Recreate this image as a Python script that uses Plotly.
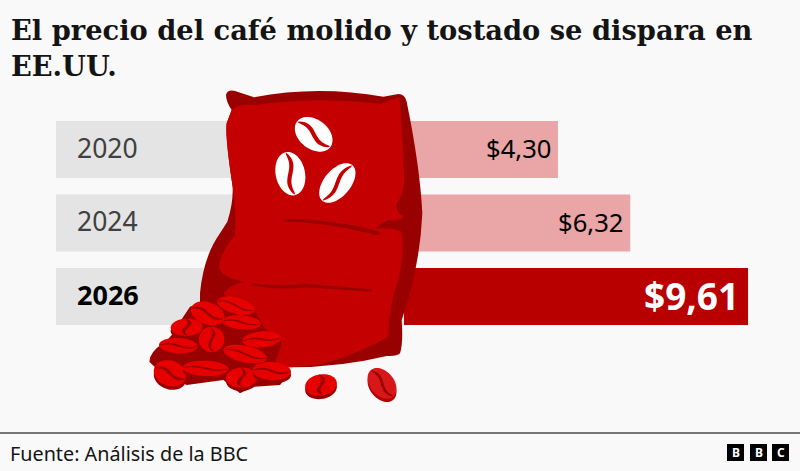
import re
import numpy as np
import plotly.graph_objects as go

years = ["2020", "2024", "2026"]
prices = [4.30, 6.32, 9.61]
bar_colors = ["#eaa6a6", "#eaa6a6", "#b80000"]
track_value = [-9.72, -9.72, -9.72]

W, H = 800, 471
BG = "#f9f9f9"
SACK = "#c40000"
DARK = "#990000"
BEAN = "#e60000"


def zx(x):
    return (140 + x / 3) / W


def zy(y):
    return 1 - (80 + y / 3) / H


def zpath(d):
    out = []
    is_x = True
    for tok in re.findall(r"[A-Za-z]|-?\d+\.?\d*", d):
        if tok.isalpha():
            out.append(tok)
            is_x = True
        else:
            out.append(f"{zx(float(tok)):.5f}" if is_x else f"{zy(float(tok)):.5f}")
            is_x = not is_x
    return " ".join(out)


def shape(d, color):
    return dict(type="path", xref="paper", yref="paper", path=zpath(d),
                fillcolor=color, line=dict(width=0))


def poly(pts, color):
    d = "M " + " L ".join(f"{x:.1f},{y:.1f}" for x, y in pts) + " Z"
    return shape(d, color)


def bean(cx, cy, a, b, ang, fill=BEAN, crease=DARK, under=DARK, sgn=1, cw=0.11):
    r = np.radians(ang)
    c, s = np.cos(r), np.sin(r)

    def tf(u, v):
        return [(cx + ux * c - vy * s, cy + ux * s + vy * c) for ux, vy in zip(u, v)]

    th = np.linspace(0, 2 * np.pi, 48, endpoint=False)
    res = []
    if under:
        pts = [(x, y + 10) for x, y in tf(a * np.cos(th), b * np.sin(th))]
        res.append(poly(pts, under))
    res.append(poly(tf(a * np.cos(th), b * np.sin(th)), fill))
    t = np.linspace(-1, 1, 25)
    mid = sgn * 0.2 * b * np.sin(np.pi * t)
    w = cw * b * (1 - t ** 2) ** 0.5 + 0.015 * b
    u = np.concatenate([a * 0.97 * t, a * 0.97 * t[::-1]])
    v = np.concatenate([mid - w, (mid + w)[::-1]])
    res.append(poly(tf(u, v), crease))
    return res


shapes = []
# sack body
shapes.append(shape(
    "M 258,45 Q 262,28 285,33 L 342,52 Q 530,15 730,50 L 775,42 Q 795,42 800,65 "
    "Q 840,260 847,400 Q 840,560 785,720 Q 790,790 780,820 Q 770,830 740,828 "
    "Q 600,862 450,862 L 300,860 L 180,700 L 180,640 Q 190,530 240,460 L 262,425 "
    "Q 280,370 278,320 Q 255,170 260,130 L 275,90 Q 258,65 258,45 Z", DARK))
shapes.append(shape(
    "M 275,90 Q 290,72 345,75 Q 530,48 720,72 L 778,52 Q 790,200 793,310 "
    "Q 790,345 770,370 Q 766,395 790,410 Q 780,425 745,420 Q 725,428 705,447 "
    "Q 755,440 785,455 Q 795,510 775,600 Q 745,680 745,770 Q 690,800 640,820 "
    "Q 550,862 450,862 L 405,850 L 300,700 L 250,640 Q 270,615 310,605 "
    "Q 240,590 237,560 Q 240,520 285,465 Q 290,400 278,320 Q 255,170 260,130 Z", SACK))
# folds
shapes.append(shape("M 432,417 Q 580,418 710,452 L 722,462 Q 700,468 690,460 "
                    "Q 560,428 432,424 Z", DARK))
shapes.append(shape("M 335,610 Q 420,620 500,612 L 695,628 L 695,635 L 500,622 "
                    "Q 410,632 335,615 Z", DARK))
# white beans on the sack
shapes += bean(521, 163, 63, 44, 38, "#ffffff", SACK, None, cw=0.14)
shapes += bean(451, 281, 66, 44, 78, "#ffffff", SACK, None, cw=0.14)
shapes += bean(592, 309, 70, 40, -50, "#ffffff", SACK, None, -1, cw=0.14)
# pile shadow
shapes.append(shape(
    "M 28,845 Q 30,815 70,790 Q 100,765 110,740 L 150,680 L 230,650 L 340,680 L 370,740 "
    "L 425,790 L 405,850 L 450,880 L 420,915 L 340,920 L 300,940 L 250,900 L 140,915 "
    "Q 60,880 28,845 Z", DARK))
# pile beans
pile = [
    (288, 677, 58, 24, 15), (203, 700, 52, 33, 20), (305, 727, 58, 21, 5),
    (140, 742, 26, 48, 88), (215, 778, 38, 38, 85), (365, 778, 58, 24, -5),
    (115, 797, 58, 23, 3), (315, 822, 66, 25, 12), (90, 880, 50, 38, 20),
    (197, 865, 68, 23, 2), (305, 893, 30, 47, 88), (395, 873, 58, 27, 3),
]
for cx, cy, a, b, ang in pile:
    shapes += bean(cx, cy, a, b, ang)
shapes += bean(543, 915, 32, 48, 80)
shapes += bean(726, 910, 52, 36, 50, "#d81818", DARK, "#b80000")

# BBC blocks
for x0 in (727, 750, 772):
    shapes.append(dict(type="rect", xref="paper", yref="paper", x0=x0 / W, x1=(x0 + 17) / W,
                       y0=1 - 461 / H, y1=1 - 444 / H, fillcolor="#000000", line=dict(width=0)))
# footer rule
shapes.append(dict(type="line", xref="paper", yref="paper", x0=0, x1=1,
                   y0=1 - 433 / H, y1=1 - 433 / H, line=dict(color="#777777", width=2)))

fig = go.Figure()
fig.add_trace(go.Bar(y=years, x=track_value, orientation="h", width=57 / 73.5,
                     marker=dict(color="#e4e4e4", line=dict(width=0)), hoverinfo="skip"))
fig.add_trace(go.Bar(y=years, x=prices, orientation="h", width=57 / 73.5,
                     marker=dict(color=bar_colors, line=dict(width=0)), hoverinfo="skip"))

ann = []
SANS = "Noto Sans"
for i, (yr, p) in enumerate(zip(years, prices)):
    last = i == len(years) - 1
    ann.append(dict(x=75 / W, xref="paper", y=i, yref="y", xanchor="left", yanchor="middle",
                    yshift=2, showarrow=False, text=f"<b>{yr}</b>" if last else yr,
                    font=dict(family=SANS, size=27 if last else 26.5, color="#000000" if last else "#404040")))
    label = f"${p:.2f}".replace(".", ",")
    ann.append(dict(x=p, xref="x", y=i, yref="y", xanchor="right", yanchor="middle",
                    xshift=-7 if last else -5, yshift=1, showarrow=False,
                    text=f"<b>{label}</b>" if last else label,
                    font=dict(family=SANS, size=37 if last else 25.6, color="#ffffff" if last else "#000000")))

TITLE_FONT = dict(family="DejaVu Serif", size=27.3, color="#141414")
for txt, py in (("<b>El precio del café molido y tostado se dispara en</b>", 30),
                ("<b>EE.UU.</b>", 66)):
    ann.append(dict(x=9 / W, y=1 - py / H, xref="paper", yref="paper", xanchor="left", yanchor="middle",
                    showarrow=False, text=txt, font=TITLE_FONT))
ann.append(dict(x=8 / W, y=1 - 453 / H, xref="paper", yref="paper", xanchor="left", yanchor="middle",
                showarrow=False, text="Fuente: Análisis de la BBC",
                font=dict(family=SANS, size=19.8, color="#141414")))
for ch, x0 in zip("BBC", (727, 750, 772)):
    ann.append(dict(x=(x0 + 8.5) / W, y=1 - 452.5 / H, xref="paper", yref="paper", xanchor="center",
                    yanchor="middle", showarrow=False, text=f"<b>{ch}</b>",
                    font=dict(family=SANS, size=12, color="#ffffff")))

fig.update_layout(
    width=W, height=H, margin=dict(l=0, r=0, t=0, b=0),
    paper_bgcolor=BG, plot_bgcolor=BG, barmode="overlay", showlegend=False,
    xaxis=dict(range=[-404 / 35.8, (W - 404) / 35.8], visible=False, fixedrange=True),
    yaxis=dict(type="category", categoryorder="array", categoryarray=years,
               range=[(H - 149.5) / 73.5, -149.5 / 73.5], visible=False, fixedrange=True),
    shapes=shapes, annotations=ann,
)
fig.write_html("out.html", config=dict(displayModeBar=False),
               post_script="document.body.style.margin='0';document.documentElement.style.overflow='hidden';")
